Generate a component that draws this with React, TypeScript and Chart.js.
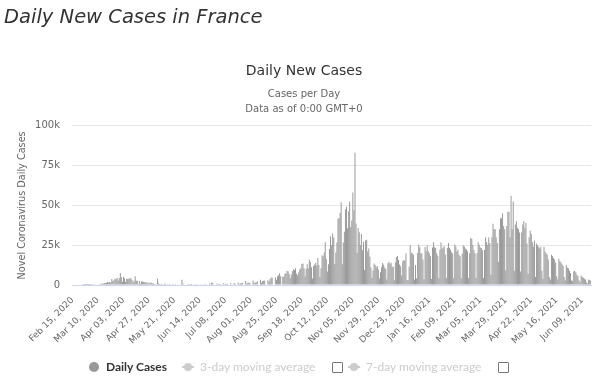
import React, { useEffect, useRef } from 'react';
import { Chart, registerables } from 'chart.js';

Chart.register(...registerables);

// Daily new cases in France, one value per day starting Feb 15, 2020
const feb2020 = [0, 0, 0, 0, 0, 0, 0, 0, 0, 0, 2, 4, 20, 19, 43];
const mar2020 = [30, 61, 21, 73, 138, 190, 336, 177, 286, 372, 497, 595, 785, 838, 924, 1210, 1097, 1404, 1861, 1617, 1847, 1559, 3838, 2446, 2931, 3922, 3809, 4611, 2599, 4376, 7578];
const apr2020 = [4861, 2116, 5233, 4267, 1873, 3912, 3777, 3881, 4286, 4342, 3114, 1613, 2673, 5497, 2633, 2641, 405, 2569, 785, 2383, 2256, 1827, 1653, 1773, 1537, 1396, 1147, 1385, 1608, 1099];
const may2020 = [1088, 596, 439, 543, 3916, 1052, 700, 400, 579, 80, 460, 890, 0, 643, 0, 552, 130, 358, 528, 416, 0, 598, 386, 317, 304, 358, 191, 3325, 1110, 0, 0];
const jun2020 = [257, 338, 767, 352, 611, 579, 0, 480, 410, 468, 542, 504, 0, 0, 407, 313, 480, 371, 564, 467, 0, 0, 1000, 480, 1588, 1266, 0, 0, 0, 1017];
const jul2020 = [540, 658, 582, 0, 0, 1138, 512, 814, 578, 663, 0, 0, 1177, 0, 0, 1208, 1001, 0, 0, 1544, 591, 1062, 1130, 1252, 0, 0, 2551, 725, 1392, 1346, 1377];
const aug2020 = [0, 0, 2836, 1039, 1695, 1604, 2288, 0, 0, 3292, 1397, 2524, 2669, 2846, 0, 0, 3015, 2238, 3776, 4771, 4586, 0, 0, 4897, 3304, 5429, 6111, 7379, 5453, 0, 5413];
const sep2020 = [4982, 7017, 7157, 8975, 8550, 7071, 4203, 6544, 8577, 9843, 9406, 10561, 7183, 6158, 7852, 9784, 10593, 13215, 13498, 10569, 5298, 10008, 13072, 10593, 16096, 14412, 11123, 4070, 11998, 12845];
const oct2020 = [13970, 12148, 16972, 12565, 5084, 10489, 18746, 18129, 20339, 26896, 16101, 8505, 12993, 22591, 30621, 25086, 32427, 29837, 13243, 20468, 26676, 41622, 42032, 45422, 52010, 13022, 26771, 33417, 47637, 49215, 35641];
const nov2020 = [46290, 52518, 36330, 40558, 58046, 47000, 83000, 38619, 20155, 35879, 33172, 25086, 32095, 21864, 27228, 9406, 28000, 28383, 21150, 22882, 17881, 11022, 4452, 9155, 13563, 12580, 11221, 12010, 9784, 4005];
const dec2020 = [8083, 11221, 13750, 12696, 11022, 10000, 3411, 13713, 14595, 13406, 13947, 11533, 11532, 3063, 14064, 17615, 18254, 15674, 12799, 11795, 5960, 14929, 15674, 15245, 19814, 3093, 2960, 11395, 25000, 20262, 19927];
const jan2021 = [19000, 3466, 12489, 4022, 20177, 25379, 23650, 20177, 19814, 15944, 3582, 23852, 21228, 25000, 21271, 19938, 18093, 3736, 23608, 26916, 23770, 23292, 20000, 18436, 4240, 22086, 26916, 22858, 23770, 24392, 19235];
const feb2021 = [4347, 23337, 26362, 23448, 22139, 20586, 19715, 4317, 25387, 24116, 21063, 22139, 18870, 17997, 4376, 19590, 25018, 24116, 23000, 22371, 21231, 4376, 20000, 29500, 29000, 25207, 22046, 19952];
const mar2021 = [4376, 19952, 26788, 25279, 23507, 23306, 21825, 4376, 22000, 29975, 27000, 25229, 29759, 26343, 6471, 29975, 38501, 34998, 35088, 29759, 26343, 14678, 34998, 42000, 41869, 45000, 37014, 35000, 9094, 37014, 46000];
const apr2021 = [46000, 30000, 56000, 35000, 52500, 9000, 38000, 40000, 36000, 35000, 33000, 8536, 33000, 38000, 40000, 36000, 39000, 26000, 7000, 30000, 34000, 32000, 27000, 24000, 28000, 5000, 26000, 25000, 24000, 23000];
const may2021 = [24000, 9000, 4000, 24000, 21000, 20000, 19000, 16000, 5000, 3500, 19000, 18000, 17000, 16000, 14000, 5500, 3600, 16500, 15000, 14000, 13000, 12000, 5000, 3000, 12500, 11000, 10500, 9000, 7500, 3000, 2500];
const jun2021 = [8500, 9000, 8000, 6500, 5500, 3000, 1800, 6000, 5000, 4500, 4000, 3500, 1500, 1000, 3500, 3000, 2800];

const dailyCases = [
  ...feb2020, ...mar2020, ...apr2020, ...may2020, ...jun2020, ...jul2020,
  ...aug2020, ...sep2020, ...oct2020, ...nov2020, ...dec2020, ...jan2021,
  ...feb2021, ...mar2021, ...apr2021, ...may2021, ...jun2021,
];

const MONTHS = ['Jan', 'Feb', 'Mar', 'Apr', 'May', 'Jun', 'Jul', 'Aug', 'Sep', 'Oct', 'Nov', 'Dec'];
const START_DATE = Date.UTC(2020, 1, 15);
const dateLabels = dailyCases.map((_, i) => {
  const d = new Date(START_DATE + i * 86400000);
  return `${MONTHS[d.getUTCMonth()]} ${String(d.getUTCDate()).padStart(2, '0')}, ${d.getUTCFullYear()}`;
});
const LABEL_EVERY = 24;
const yTickValues = [0, 25000, 50000, 75000, 100000];

const FONT = '"DejaVu Sans", sans-serif';

export default function App() {
  const ref = useRef<HTMLCanvasElement | null>(null);

  useEffect(() => {
    document.body.style.margin = '0';
    const ctx = ref.current!.getContext('2d')!;
    const chart = new Chart(ctx, {
      type: 'bar',
      data: {
        labels: dateLabels,
        datasets: [
          {
            label: 'Daily Cases',
            data: dailyCases,
            backgroundColor: '#969696',
            borderWidth: 0,
            barPercentage: 0.9,
            categoryPercentage: 1,
          },
        ],
      },
      options: {
        responsive: false,
        animation: false,
        events: [],
        layout: { padding: { left: 16, right: 8, top: 0, bottom: 36 } },
        plugins: {
          legend: { display: false },
          tooltip: { enabled: false },
          title: {
            display: true,
            text: 'Daily New Cases',
            color: '#333333',
            font: { family: FONT, size: 14, weight: 'normal' },
            padding: { top: 63, bottom: 6 },
          },
          subtitle: {
            display: true,
            text: ['Cases per Day', 'Data as of 0:00 GMT+0'],
            color: '#666666',
            font: { family: FONT, size: 10, weight: 'normal', lineHeight: 1.5 },
            padding: { top: 1, bottom: 9 },
          },
        },
        scales: {
          x: {
            type: 'category',
            grid: { display: false, drawTicks: false },
            border: { display: true, color: '#ccd6eb', width: 1 },
            afterFit: (scale: any) => {
              scale.height = 60;
            },
            ticks: {
              autoSkip: false,
              maxRotation: 45,
              minRotation: 45,
              padding: 10,
              color: '#666666',
              font: { family: FONT, size: 9 },
              callback: function (this: any, val: any, idx: number) {
                return idx % LABEL_EVERY === 0 ? this.getLabelForValue(val) : null;
              },
            },
          },
          y: {
            min: 0,
            max: 100000,
            afterBuildTicks: (scale: any) => {
              scale.ticks = yTickValues.map((v) => ({ value: v }));
            },
            afterFit: (scale: any) => {
              scale.width = 56;
            },
            grid: { color: '#e6e6e6', drawTicks: false },
            border: { display: false },
            ticks: {
              padding: 12,
              color: '#666666',
              font: { family: FONT, size: 10 },
              callback: (v: any) => (v === 0 ? '0' : `${Number(v) / 1000}k`),
            },
            title: {
              display: true,
              text: 'Novel Coronavirus Daily Cases',
              color: '#666666',
              font: { family: FONT, size: 9.7 },
              padding: { top: 1, bottom: 0 },
            },
          },
        },
      },
    });
    return () => chart.destroy();
  }, []);

  const legendText: React.CSSProperties = {
    position: 'absolute',
    top: 359,
    fontFamily: 'Lato, sans-serif',
    fontSize: 12,
    lineHeight: '16px',
    whiteSpace: 'nowrap',
  };
  const box: React.CSSProperties = {
    position: 'absolute',
    top: 362,
    width: 9,
    height: 9,
    border: '1px solid #777',
    borderRadius: 1,
    boxSizing: 'content-box',
  };
  const lineSym = (left: number) => (
    <div style={{ position: 'absolute', left, top: 366, width: 12, height: 2, background: '#cccccc' }}>
      <div style={{ position: 'absolute', left: 2, top: -3, width: 8, height: 8, borderRadius: 4, background: '#cccccc' }} />
    </div>
  );

  return (
    <div style={{ position: 'relative', width: 600, height: 381, background: '#ffffff', overflow: 'hidden' }}>
      <canvas ref={ref} width={600} height={381} style={{ position: 'absolute', left: 0, top: 0 }} />
      <div
        style={{
          position: 'absolute',
          left: 4,
          top: 3,
          fontFamily: '"DejaVu Sans", sans-serif',
          fontStyle: 'italic',
          fontSize: 19.5,
          lineHeight: '27px',
          color: '#333333',
          whiteSpace: 'nowrap',
        }}
      >
        Daily New Cases in France
      </div>
      <div style={{ position: 'absolute', left: 89, top: 362, width: 10, height: 10, borderRadius: 5, background: '#999999' }} />
      <div style={{ ...legendText, left: 106, fontWeight: 'bold', color: '#333333' }}>Daily Cases</div>
      {lineSym(182)}
      <div style={{ ...legendText, left: 200, color: '#cccccc' }}>3-day moving average</div>
      <div style={{ ...box, left: 332 }} />
      {lineSym(348)}
      <div style={{ ...legendText, left: 366, color: '#cccccc' }}>7-day moving average</div>
      <div style={{ ...box, left: 498 }} />
    </div>
  );
}
